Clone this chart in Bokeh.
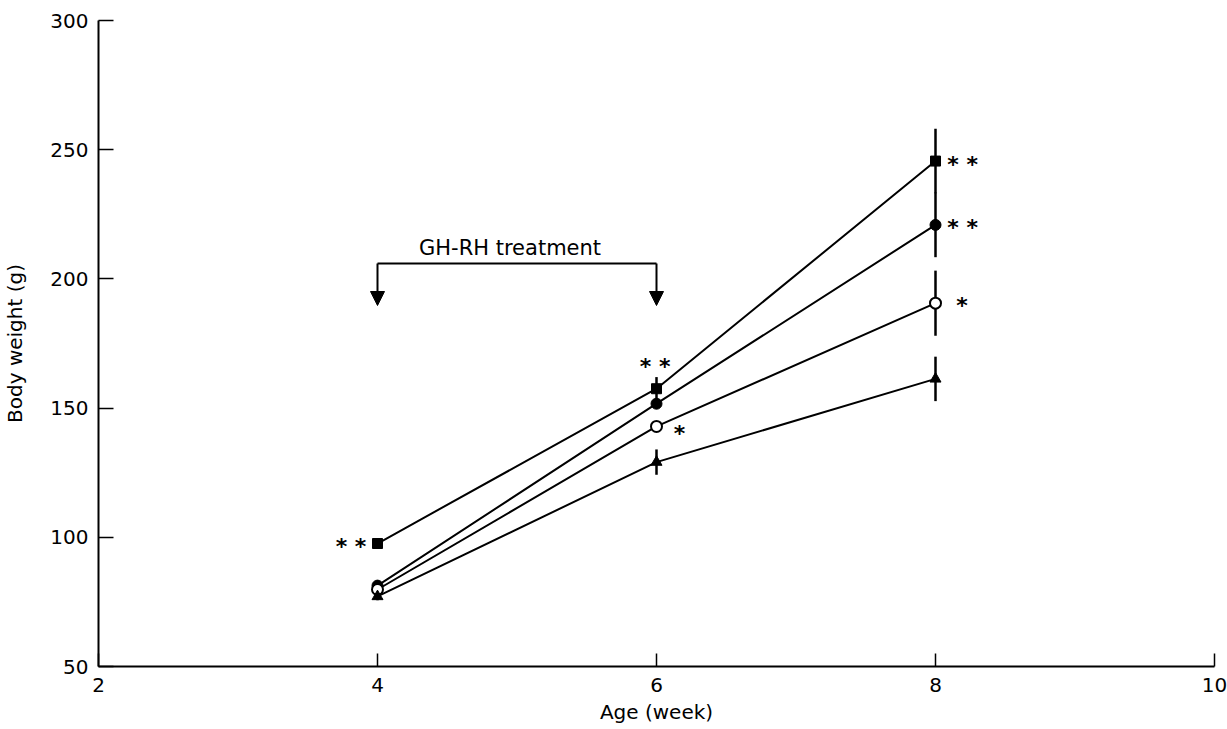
from bokeh.plotting import figure
from bokeh.models import Range1d, FixedTicker, Arrow, NormalHead, ColumnDataSource, Label
from bokeh.core.properties import value
from bokeh.embed import file_html
from bokeh.resources import INLINE

# ---- data ----
weeks = [4, 6, 8]
sq = [97.6, 157.5, 245.6]
sq_err = [2.0, 4.5, 12.5]
fc = [81.3, 151.7, 220.9]
fc_err = [2.0, 2.0, 12.5]
oc = [79.8, 142.9, 190.6]
oc_err = [2.5, 1.5, 12.6]
tri = [77.1, 129.1, 161.3]
tri_err = [1.5, 4.9, 8.6]

x_ticks = [2, 4, 6, 8, 10]
y_ticks = [50, 100, 150, 200, 250, 300]

# significance marks
star_x = [3.81, 5.99, 6.165, 8.195, 8.195, 8.19]
star_y = [97.6, 167.1, 141.3, 245.6, 220.9, 190.8]
star_t = ["* *", "* *", "*", "* *", "* *", "*"]

# treatment bracket
treat_start, treat_end = 4, 6
bracket_y = 206.0
arrow_tip_y = 189.7

FONT = "DejaVu Sans"

p = figure(width=1227, height=729, output_backend="svg", toolbar_location=None,
           x_range=Range1d(2, 10), y_range=Range1d(50, 300),
           min_border_left=98, min_border_right=13, min_border_top=20, min_border_bottom=63)
p.outline_line_color = None
p.xgrid.grid_line_color = None
p.ygrid.grid_line_color = None
p.background_fill_color = "white"

for ax in (p.xaxis[0], p.yaxis[0]):
    ax.axis_line_width = 2
    ax.axis_line_color = "black"
    ax.major_tick_line_width = 1.5
    ax.major_tick_out = 0
    ax.minor_tick_line_color = None
    ax.major_label_text_font = FONT
    ax.major_label_text_font_size = "20px"
    ax.major_label_text_color = "black"
    ax.axis_label_text_font = FONT
    ax.axis_label_text_font_size = "20px"
    ax.axis_label_text_font_style = "normal"
    ax.axis_label_text_color = "black"

p.xaxis.ticker = FixedTicker(ticks=x_ticks)
p.yaxis.ticker = FixedTicker(ticks=y_ticks)
p.xaxis.major_tick_in = 13
p.yaxis.major_tick_in = 15
p.xaxis.major_label_standoff = 11
p.yaxis.major_label_standoff = 10
p.xaxis.axis_label = "Age (week)"
p.yaxis.axis_label = "Body weight (g)"
p.xaxis.axis_label_standoff = 5
p.yaxis.axis_label_standoff = 20

series = [(sq, sq_err), (fc, fc_err), (oc, oc_err), (tri, tri_err)]
for vals, errs in series:
    p.line(weeks, vals, line_color="black", line_width=2)
    lo = [v - e for v, e in zip(vals, errs)]
    hi = [v + e for v, e in zip(vals, errs)]
    p.segment(x0=weeks, y0=lo, x1=weeks, y1=hi, line_color="black", line_width=2.5)

p.scatter(weeks, sq, marker="square", size=10, fill_color="black", line_color="black")
p.scatter(weeks, fc, marker="circle", size=11, fill_color="black", line_color="black")
p.scatter(weeks, oc, marker="circle", size=11, fill_color="white", line_color="black", line_width=2)
p.scatter(weeks, tri, marker="triangle", size=11, fill_color="black", line_color="black")

src = ColumnDataSource(dict(x=star_x, y=star_y, t=star_t))
p.text(x="x", y="y", text="t", source=src, text_font=value(FONT), text_font_size="22px",
       text_font_style="bold", text_align="center", text_baseline="middle", y_offset=3,
       text_color="black")

# treatment bracket
p.segment(x0=[treat_start], y0=[bracket_y], x1=[treat_end], y1=[bracket_y],
          line_color="black", line_width=2)
for xx in (treat_start, treat_end):
    p.add_layout(Arrow(end=NormalHead(size=14, fill_color="black", line_color="black"),
                       x_start=xx, y_start=bracket_y, x_end=xx, y_end=arrow_tip_y,
                       line_color="black", line_width=2))
p.add_layout(Label(x=(treat_start + treat_end) / 2 - 0.05, y=bracket_y, text="GH-RH treatment",
                   text_font=FONT, text_font_size="21px", text_align="center",
                   text_baseline="bottom", y_offset=3, text_color="black"))

open("out.html", "w").write(file_html(p, INLINE))
